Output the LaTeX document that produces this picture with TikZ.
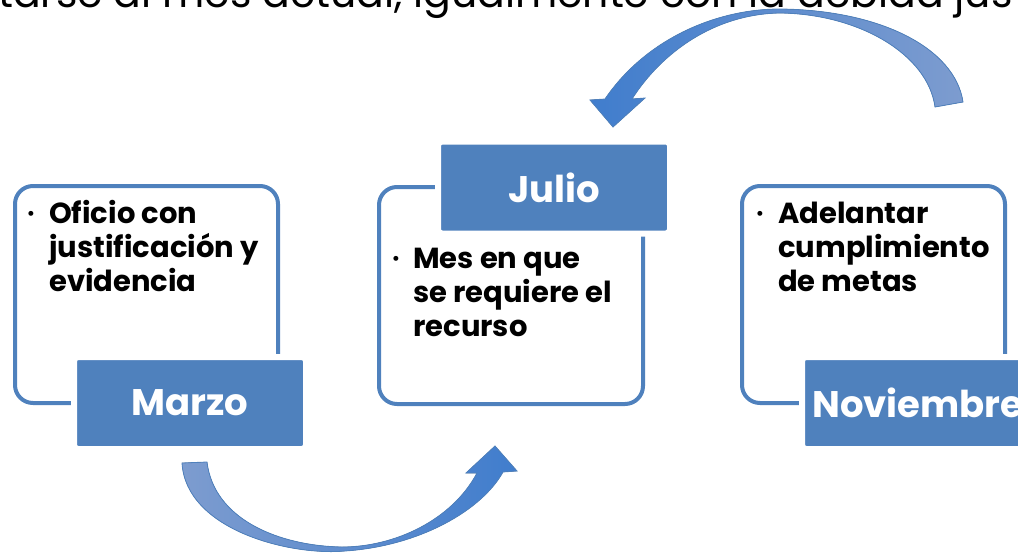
\documentclass[tikz,border=0pt]{standalone}
\usepackage{fontspec}
\setmainfont{Poppins}
\usetikzlibrary{positioning}

\definecolor{boxblue}{RGB}{79,129,189}
\definecolor{arrowdark}{RGB}{64,125,205}
\definecolor{arrowlight}{RGB}{125,156,207}

\begin{document}
\begin{tikzpicture}[x=1pt, y=-1pt,
    frame/.style = {draw=boxblue, line width=4pt, rounded corners=18pt},
    month/.style = {fill=boxblue, draw=white, line width=6pt, rounded corners=4pt,
                    minimum width=232pt, minimum height=92pt, text=white,
                    font=\bfseries\fontsize{37}{40}\selectfont},
    item/.style = {anchor=base west, align=left, inner sep=0pt,
                   font=\bfseries\fontsize{29}{34}\selectfont},
    dot/.style = {anchor=base, inner sep=0pt, font=\fontsize{20}{20}\selectfont}]

    \useasboundingbox (0,0) rectangle (1018,552);
    \clip (0,0) rectangle (1018,552);

    % cut-off line of the slide above
    \node[anchor=base west, inner sep=0pt, font=\fontsize{41}{41}\selectfont] (top) at (-2,7)
        {tarse al mes actual, igualmente con la debida jus};

    % the three frames
    \draw[frame] (15,186) rectangle (278,403);
    \draw[frame] (379,187) rectangle (643,404);
    \draw[frame] (742,186) rectangle (1005,403);

    \node[month] (marzo) at (190,403) {Marzo};
    \node[month] (julio) at (554,187.5) {Julio};
    \node[month] (nov) at (918,403) {Noviembre};

    \node[dot] (b1) at (31,220) {•};
    \node[item] (t1) at (49,291) {Oficio con\\justificación y\\evidencia};
    \node[dot] (b2) at (396,265) {•};
    \node[item] (t2) at (413,336) {Mes en que\\se requiere el\\recurso};
    \node[dot] (b3) at (760,220) {•};
    \node[item] (t3) at (778,291) {Adelantar\\cumplimiento\\de metas};

    % lower arrow, Marzo to Julio
    \fill[left color=arrowlight, right color=arrowdark, draw=boxblue, line width=0.8pt]
        (182,463) .. controls (186,530) and (290,556) .. (345,551)
        .. controls (420,546) and (482,510) .. (503,472)
        -- (517,471) -- (495,446) -- (466,473) -- (477,473)
        .. controls (452,520) and (395,547) .. (342,547)
        .. controls (280,546) and (214,520) .. (207,462) -- cycle;

    % upper arrow, Noviembre back to Julio
    \fill[left color=arrowdark, right color=arrowlight, draw=boxblue, line width=0.8pt]
        (963,102) .. controls (955,48) and (880,10) .. (780,9)
        .. controls (715,9) and (645,40) .. (605,99)
        -- (590,100) -- (613,127) -- (645,98) -- (632,99)
        .. controls (662,52) and (715,14) .. (780,13)
        .. controls (860,14) and (928,55) .. (935,107) -- cycle;

\end{tikzpicture}
\end{document}
